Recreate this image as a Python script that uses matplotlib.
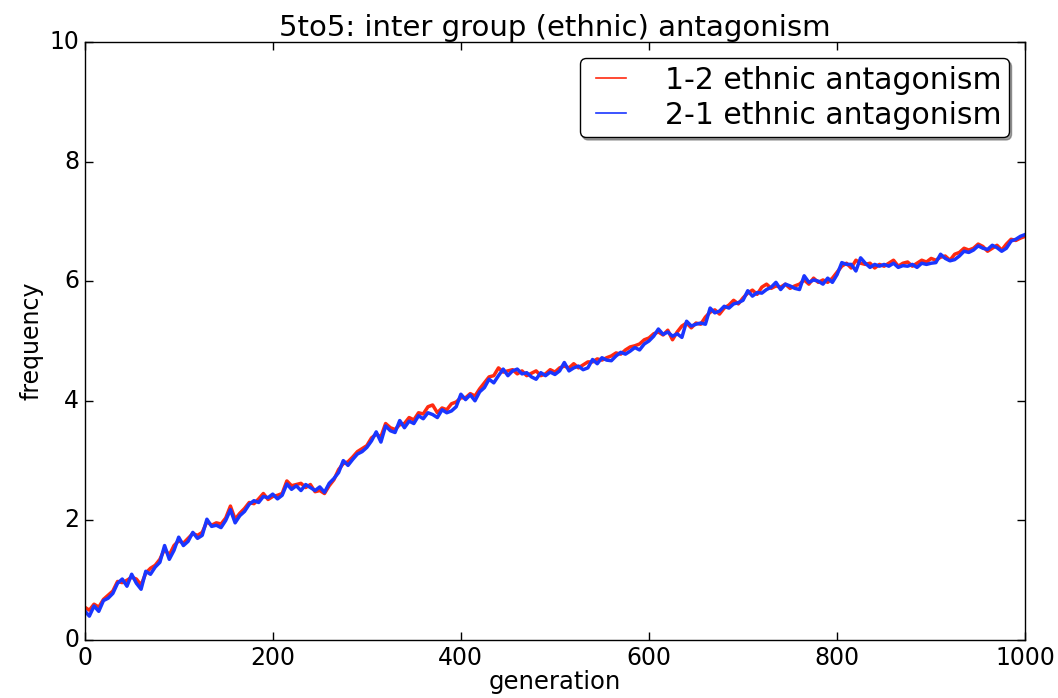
import matplotlib
matplotlib.use("Agg")
import matplotlib.pyplot as plt

# generations sampled every 5 steps
generations = list(range(0, 1001, 5))

# 2-1 ethnic antagonism (blue)
val_21 = [0.49, 0.40, 0.57, 0.48, 0.66, 0.70, 0.78, 0.95, 1.02, 0.90, 1.10,
          0.95, 0.85, 1.15, 1.10, 1.22, 1.30, 1.58, 1.35, 1.50, 1.72,
          1.58, 1.65, 1.80, 1.70, 1.75, 2.02, 1.90, 1.92, 1.88, 2.00,
          2.18, 1.96, 2.08, 2.15, 2.27, 2.33, 2.30, 2.40, 2.38, 2.44,
          2.36, 2.42, 2.61, 2.52, 2.58, 2.50, 2.60, 2.55, 2.50, 2.56,
          2.47, 2.62, 2.70, 2.80, 3.00, 2.92, 3.02, 3.11, 3.15, 3.22,
          3.33, 3.48, 3.31, 3.58, 3.50, 3.47, 3.67, 3.55, 3.66, 3.62,
          3.75, 3.70, 3.80, 3.77, 3.72, 3.85, 3.80, 3.83, 3.90, 4.11,
          4.02, 4.10, 4.00, 4.15, 4.22, 4.36, 4.30, 4.42, 4.53, 4.42,
          4.50, 4.53, 4.45, 4.47, 4.40, 4.36, 4.47, 4.42, 4.48, 4.44,
          4.50, 4.64, 4.50, 4.55, 4.58, 4.52, 4.55, 4.69, 4.62, 4.72,
          4.68, 4.67, 4.75, 4.81, 4.78, 4.83, 4.89, 4.85, 4.95, 5.00,
          5.08, 5.20, 5.11, 5.15, 5.08, 5.12, 5.06, 5.33, 5.25, 5.28,
          5.30, 5.28, 5.55, 5.47, 5.50, 5.58, 5.55, 5.62, 5.64, 5.68,
          5.84, 5.75, 5.81, 5.80, 5.86, 5.90, 5.98, 5.86, 5.95, 5.92,
          5.88, 5.86, 6.09, 5.98, 6.02, 6.00, 5.95, 6.05, 5.98, 6.11,
          6.31, 6.28, 6.28, 6.17, 6.39, 6.30, 6.23, 6.28, 6.25, 6.28,
          6.25, 6.30, 6.23, 6.26, 6.25, 6.28, 6.23, 6.30, 6.28, 6.30,
          6.31, 6.45, 6.38, 6.34, 6.36, 6.42, 6.50, 6.48, 6.52, 6.59,
          6.55, 6.53, 6.60, 6.56, 6.50, 6.55, 6.67, 6.70, 6.75, 6.78]

# 1-2 ethnic antagonism (red)
val_12 = [0.55, 0.50, 0.60, 0.55, 0.68, 0.75, 0.82, 0.98, 0.96, 1.00, 1.05,
          1.02, 0.92, 1.12, 1.20, 1.25, 1.35, 1.52, 1.42, 1.58, 1.66,
          1.62, 1.70, 1.78, 1.75, 1.80, 1.98, 1.92, 1.96, 1.94, 2.04,
          2.24, 2.02, 2.12, 2.20, 2.30, 2.28, 2.36, 2.45, 2.35, 2.40,
          2.42, 2.45, 2.66, 2.58, 2.60, 2.62, 2.55, 2.60, 2.48, 2.50,
          2.45, 2.58, 2.68, 2.85, 2.95, 2.98, 3.06, 3.15, 3.20, 3.25,
          3.38, 3.44, 3.40, 3.62, 3.55, 3.52, 3.60, 3.62, 3.72, 3.68,
          3.80, 3.78, 3.90, 3.93, 3.80, 3.88, 3.85, 3.95, 3.98, 4.05,
          4.05, 4.12, 4.08, 4.20, 4.30, 4.40, 4.42, 4.55, 4.48, 4.50,
          4.52, 4.45, 4.50, 4.42, 4.46, 4.50, 4.42, 4.45, 4.52, 4.48,
          4.55, 4.58, 4.55, 4.62, 4.55, 4.60, 4.65, 4.65, 4.70, 4.68,
          4.72, 4.75, 4.80, 4.78, 4.85, 4.90, 4.92, 4.95, 5.02, 5.05,
          5.12, 5.15, 5.10, 5.18, 5.02, 5.15, 5.25, 5.30, 5.22, 5.30,
          5.28, 5.40, 5.48, 5.52, 5.45, 5.55, 5.60, 5.68, 5.62, 5.72,
          5.80, 5.85, 5.78, 5.90, 5.95, 5.88, 5.92, 5.90, 5.95, 5.88,
          5.92, 5.95, 6.02, 5.95, 6.05, 5.98, 6.02, 5.98, 6.05, 6.15,
          6.25, 6.30, 6.22, 6.35, 6.30, 6.28, 6.30, 6.22, 6.28, 6.25,
          6.30, 6.35, 6.25, 6.30, 6.32, 6.25, 6.30, 6.35, 6.32, 6.38,
          6.35, 6.40, 6.42, 6.35, 6.45, 6.48, 6.55, 6.52, 6.55, 6.62,
          6.58, 6.50, 6.55, 6.60, 6.52, 6.62, 6.70, 6.68, 6.72, 6.75]

title = "5to5: inter group (ethnic) antagonism"
xticks = [0, 200, 400, 600, 800, 1000]
yticks = [0, 2, 4, 6, 8, 10]

plt.style.use("classic")
plt.rcParams["font.family"] = "DejaVu Sans"

fig = plt.figure(figsize=(10.58, 6.98), dpi=100)
ax = fig.add_axes([0.080, 0.083, 0.889, 0.857])

ax.plot(generations, val_12, color="#ff2a10", lw=2.5, label="1-2 ethnic antagonism")
ax.plot(generations, val_21, color="#1a36ff", lw=2.5, label="2-1 ethnic antagonism")

ax.set_xlim(0, 1000)
ax.set_ylim(0, 10)
ax.set_xticks(xticks)
ax.set_yticks(yticks)
ax.tick_params(labelsize=17, length=6, width=1)
ax.set_title(title, fontsize=21, pad=4)
ax.set_xlabel("generation", fontsize=17.5, labelpad=0)
ax.set_ylabel("frequency", fontsize=17, labelpad=4)

leg = ax.legend(loc="upper right", fontsize=21.5, shadow=True, fancybox=True,
                handlelength=1.6, handletextpad=1.0, borderaxespad=0.55,
                labelspacing=0.2, borderpad=0.25)
for l in leg.get_lines():
    l.set_linewidth(1.2)

fig.savefig("out.png", dpi=100)
